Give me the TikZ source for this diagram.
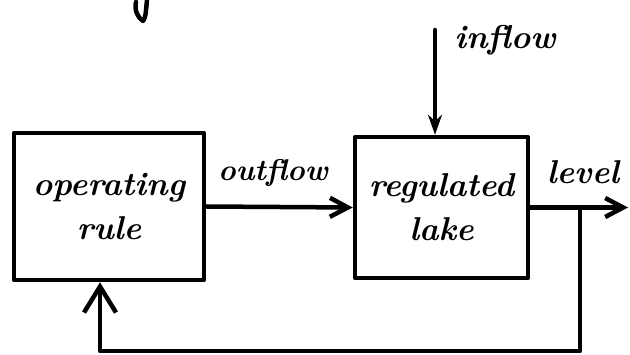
\documentclass[tikz,border=0pt]{standalone}
\usetikzlibrary{arrows.meta}
\begin{document}
\begin{tikzpicture}[x=1pt,y=-1pt,
  pen/.style={line width=4.5pt, line cap=round, line join=round},
  block/.style={pen, draw, rectangle, inner sep=0pt, align=center,
    font=\bfseries\itshape\fontsize{33}{44}\selectfont},
  lbl/.style={font=\bfseries\itshape\fontsize{30}{32}\selectfont, inner sep=0pt},
  flow/.style={pen, -{Straight Barb[length=18pt, width=19pt, line width=4.5pt]}},
  feed/.style={pen, -{Straight Barb[length=26pt, width=32pt, line width=4.5pt]}},
  inarrow/.style={pen, -{Stealth[length=20pt, width=14pt]}}]
\useasboundingbox (0,0) rectangle (630,355);

% the two blocks
\node[block, minimum width=190pt, minimum height=147pt] (op) at (109,206.5)
  {operating\\rule};
\node[block, minimum width=173pt, minimum height=141pt] (lake) at (441.5,207.5)
  {regulated\\lake};

% free ends of the connectors
\coordinate (inTop) at (435,30);
\coordinate (levelEnd) at (628,207.5);
\coordinate (tap) at (580,207.5);
\coordinate (fbCorner) at (100,351);

% signals
\draw[flow] (op.east) -- (lake.west);
\draw[inarrow] (inTop) -- (inTop |- lake.north);
\draw[flow] (lake.east) -- (levelEnd);
\draw[feed] (tap) -- (tap |- fbCorner) -- (fbCorner) -- (fbCorner |- op.south);

% labels
\node[lbl] (outflowLbl) at (273,173) {outflow};
\node[lbl, font=\bfseries\itshape\fontsize{33}{35}\selectfont] (inflowLbl) at (505,40) {inflow};
\node[lbl, font=\bfseries\itshape\fontsize{33}{35}\selectfont] (levelLbl) at (583,172) {level};

% tail of a letter from the line above
\draw[line width=4.5pt, line cap=round, line join=round]
  (147,0) .. controls (146,9) and (146,18) .. (143,21)
  .. controls (138,18) and (134,10) .. (136,2);
\end{tikzpicture}
\end{document}
